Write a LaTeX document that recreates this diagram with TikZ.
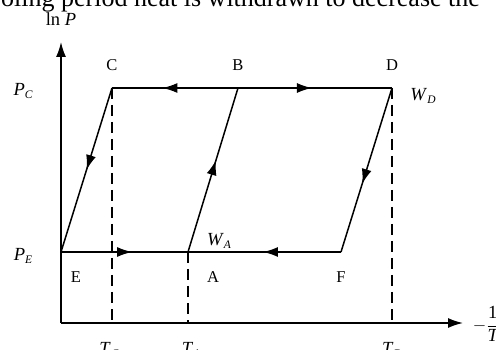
\documentclass[tikz,border=0pt]{standalone}
\usepackage{fontspec}
\setmainfont{Liberation Serif}
\usetikzlibrary{arrows.meta,decorations.markings}
\newcommand\lbsub[1]{\raisebox{-0.45ex}{\fontsize{11.5}{11.5}\selectfont\itshape #1}}
\tikzset{
  ln/.style={line width=1.5pt},
  axisln/.style={line width=1.5pt, -{Latex[length=15pt,width=10pt]}},
  dashln/.style={line width=1.5pt, dash pattern=on 11pt off 6pt},
  midarr/.style={postaction={decorate}, decoration={markings,
      mark=at position #1 with {\arrow{Latex[length=15pt,width=10pt]}}}},
  ptlabel/.style={font=\fontsize{16.5}{16.5}\selectfont, inner sep=0pt},
  mlabel/.style={font=\fontsize{18.5}{18.5}\selectfont, inner sep=0pt},
}
\begin{document}
\begin{tikzpicture}[x=1pt,y=-1pt]
\useasboundingbox (0,0) rectangle (496,350);
\clip (0,0) rectangle (496,350);
\fill[white] (0,0) rectangle (496,350);

% fragment of surrounding text
\node[anchor=base west, inner sep=0pt, font=\fontsize{26}{26}\selectfont] (toptext) at (1,7)
  {oling period heat is withdrawn to decrease the};

% coordinates
\coordinate (O) at (61,323);
\coordinate (Ytop) at (61,42);
\coordinate (Xend) at (463,323);
\coordinate (E) at (61,252);
\coordinate (A) at (188,252);
\coordinate (F) at (341,252);
\coordinate (C) at (112,88);
\coordinate (B) at (238,88);
\coordinate (D) at (392,88);
\coordinate (TC) at (112,323);
\coordinate (TA) at (188,323);
\coordinate (TD) at (392,323);

% axes
\draw[axisln] (O) -- (Ytop);
\draw[axisln] (O) -- (Xend);

% dashed verticals
\draw[dashln] (C) -- (TC);
\draw[dashln] (A) -- (TA);
\draw[dashln] (D) -- (TD);

% cycle lines
\draw[ln, midarr=0.6] (B) -- (C);
\draw[ln, midarr=0.48] (B) -- (D);
\draw[ln, midarr=0.56] (E) -- (A);
\draw[ln, midarr=0.51] (F) -- (A);
\draw[ln, midarr=0.56] (A) -- (B);
\draw[ln, midarr=0.5] (C) -- (E);
\draw[ln, midarr=0.585] (D) -- (F);

% labels
\node[mlabel] (lnP) at (61,19) {ln \textit{P}};
\node[mlabel] (PC) at (23,91) {\textit{P}\lbsub{C}};
\node[mlabel] (PE) at (23,256) {\textit{P}\lbsub{E}};
\node[ptlabel] (lC) at (112,65) {C};
\node[ptlabel] (lB) at (238,65) {B};
\node[ptlabel] (lD) at (392,65) {D};
\node[mlabel] (WD) at (423,96) {\textit{W}\lbsub{D}};
\node[mlabel] (WA) at (219,241) {\textit{W}\lbsub{A}};
\node[ptlabel] (lE) at (76,277) {E};
\node[ptlabel] (lA) at (213,277) {A};
\node[ptlabel] (lF) at (341,277) {F};
\node[mlabel, anchor=base] (TCl) at (109,354) {\textit{T}\lbsub{C}};
\node[mlabel, anchor=base] (TAl) at (191,354) {\textit{T}\lbsub{A}};
\node[mlabel, anchor=base] (TDl) at (392,354) {\textit{T}\lbsub{D}};
\node[mlabel] (xlab) at (486,324) {$\displaystyle-\frac{\textrm{1}}{\textit{T}}$};
\end{tikzpicture}
\end{document}
